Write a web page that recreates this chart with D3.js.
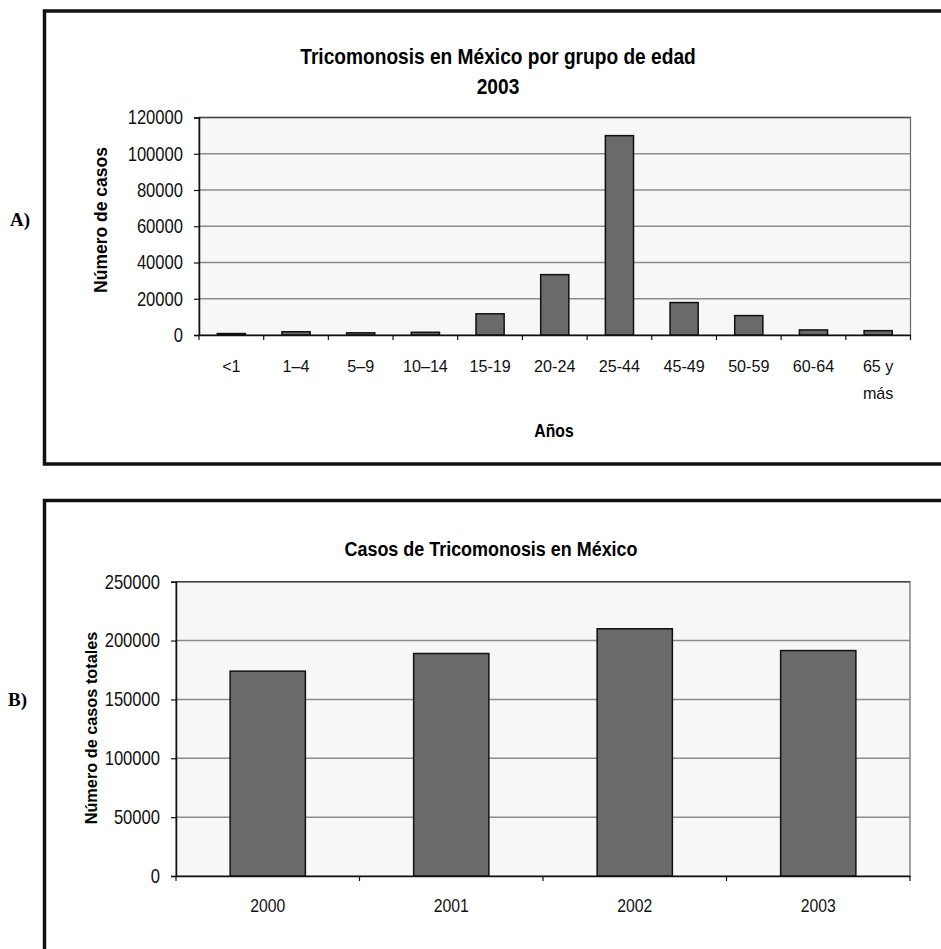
<!DOCTYPE html>
<html>
<head>
<meta charset="utf-8">
<script src="https://cdn.jsdelivr.net/npm/d3@7"></script>
<style>
  html, body { margin: 0; padding: 0; background: #ffffff; }
  svg { display: block; }
  .narrow { font-family: "Liberation Sans Narrow", "Arial Narrow", "Liberation Sans", Arial, sans-serif; }
  .reg { font-family: "Liberation Sans", Arial, sans-serif; }
  .serif { font-family: "Liberation Serif", "Times New Roman", serif; }
</style>
</head>
<body>
<svg id="chart" width="941" height="949"></svg>
<script>
// ---------- Data ----------
const ageGroups = ["<1", "1–4", "5–9", "10–14", "15-19", "20-24", "25-44", "45-49", "50-59", "60-64", "65 y más"];
const casesByAge2003 = [800, 1800, 1200, 1500, 11700, 33300, 110000, 17900, 10700, 2800, 2400];
const ageTicks = [0, 20000, 40000, 60000, 80000, 100000, 120000];

const years = ["2000", "2001", "2002", "2003"];
const totalCases = [174000, 189000, 210000, 191500];
const yearTicks = [0, 50000, 100000, 150000, 200000, 250000];

const titleA = ["Tricomonosis en México por grupo de edad", "2003"];
const yLabelA = "Número de casos";
const xLabelA = "Años";
const titleB = "Casos de Tricomonosis en México";
const yLabelB = "Número de casos totales";

// ---------- Drawing ----------
const svg = d3.select("#chart");
const barFill = "#6a6a6a";
const gridColor = "#8c8c8c";
const plotBg = "#f7f7f7";

// horizontally condense text (the source uses a narrow face)
function squeeze(sel, sx, sy) {
  sy = sy || 1;
  sel.each(function() {
    const t = d3.select(this);
    const x0 = +t.attr("x") || 0, y0 = +t.attr("y") || 0;
    t.attr("x", 0).attr("y", 0).attr("transform", `translate(${x0},${y0}) scale(${sx},${sy})`);
  });
}

// outer frames
const frames = svg.append("g").attr("fill", "none").attr("stroke", "#111").attr("stroke-width", 3.5);
frames.append("path").attr("d", "M 960 11 L 44.5 11 L 44.5 464 L 960 464");
frames.append("path").attr("d", "M 960 500.5 L 44.5 500.5 L 44.5 960");

svg.append("text").attr("class", "serif").attr("x", 10).attr("y", 226)
  .attr("font-size", 19).attr("font-weight", "bold").text("A)");
svg.append("text").attr("class", "serif").attr("x", 8).attr("y", 706)
  .attr("font-size", 19).attr("font-weight", "bold").text("B)");

function barChart(cfg) {
  const g = svg.append("g");
  const x = d3.scaleBand().domain(cfg.cats).range([cfg.left, cfg.right])
    .paddingInner(cfg.pad).paddingOuter(cfg.pad / 2);
  const y = d3.scaleLinear().domain([0, cfg.max]).range([cfg.bottom, cfg.top]);

  // plot background
  g.append("rect").attr("x", cfg.left).attr("y", cfg.top)
    .attr("width", cfg.right - cfg.left).attr("height", cfg.bottom - cfg.top)
    .attr("fill", plotBg).attr("stroke", "#666").attr("stroke-width", 1.2);

  // gridlines
  g.append("g").selectAll("line").data(cfg.ticks.filter(d => d > 0)).join("line")
    .attr("x1", cfg.left).attr("x2", cfg.right)
    .attr("y1", d => y(d)).attr("y2", d => y(d))
    .attr("stroke", d => d === cfg.max ? "#444" : gridColor).attr("stroke-width", 1.5);

  // bars
  g.append("g").selectAll("rect").data(cfg.values).join("rect")
    .attr("x", (d, i) => x(cfg.cats[i]))
    .attr("y", d => y(d))
    .attr("width", x.bandwidth())
    .attr("height", d => y(0) - y(d))
    .attr("fill", barFill).attr("stroke", "#111").attr("stroke-width", 1.5);

  // y axis
  const yAxis = g.append("g").attr("transform", `translate(${cfg.left},0)`)
    .call(d3.axisLeft(y).tickValues(cfg.ticks).tickSize(5).tickPadding(11).tickFormat(d3.format("d")));
  yAxis.select(".domain").attr("stroke", "#111").attr("stroke-width", 1.5);
  yAxis.selectAll(".tick line").attr("stroke", "#111").attr("stroke-width", 1.2);
  yAxis.selectAll(".tick text").attr("class", "narrow").attr("font-size", cfg.yTickSize).attr("fill", "#111")
    .call(squeeze, 0.83);

  // x axis (labels centred in bands, ticks at band boundaries)
  const xAxis = g.append("g").attr("transform", `translate(0,${cfg.bottom})`)
    .call(d3.axisBottom(x).tickSize(0).tickPadding(cfg.xPad));
  xAxis.select(".domain").attr("stroke", "#111").attr("stroke-width", 1.5);
  const xt = xAxis.selectAll(".tick text").attr("class", cfg.xFontClass).attr("font-size", cfg.xTickSize).attr("fill", "#111")
    .each(function(d) {
      const t = d3.select(this);
      if (d.indexOf(" y ") > 0) {
        const parts = [d.slice(0, d.indexOf(" y ") + 2), d.slice(d.indexOf(" y ") + 3)];
        t.text(null);
        parts.forEach((p, k) => t.append("tspan").attr("x", 0).attr("dy", k === 0 ? "0.71em" : "1.6em").text(p));
      }
    });
  if (cfg.xSqueeze) xt.call(squeeze, cfg.xSqueeze);
  const bounds = d3.range(cfg.cats.length + 1).map(i => cfg.left + i * x.step());
  g.append("g").selectAll("line").data(bounds).join("line")
    .attr("x1", d => d).attr("x2", d => d)
    .attr("y1", cfg.bottom).attr("y2", cfg.bottom + 5)
    .attr("stroke", "#111").attr("stroke-width", 1.2);
  return { x, y };
}

barChart({
  cats: ageGroups, values: casesByAge2003, ticks: ageTicks, max: 120000, pad: 0.565,
  left: 199, right: 910.5, top: 117.5, bottom: 335,
  yTickSize: 20, xTickSize: 17, xPad: 25, xFontClass: "reg", xSqueeze: 0.95
});

barChart({
  cats: years, values: totalCases, ticks: yearTicks, max: 250000, pad: 0.59,
  left: 176, right: 910, top: 581.7, bottom: 876,
  yTickSize: 20, xTickSize: 19, xPad: 22, xFontClass: "narrow", xSqueeze: 0.83
});

// titles
svg.append("text").attr("class", "narrow").attr("x", 498).attr("y", 64)
  .attr("text-anchor", "middle").attr("font-size", 22).attr("font-weight", "bold").text(titleA[0])
  .call(squeeze, 0.87);
svg.append("text").attr("class", "narrow").attr("x", 498).attr("y", 94)
  .attr("text-anchor", "middle").attr("font-size", 22).attr("font-weight", "bold").text(titleA[1])
  .call(squeeze, 0.87);
svg.append("text").attr("class", "narrow").attr("x", 491).attr("y", 556)
  .attr("text-anchor", "middle").attr("font-size", 21).attr("font-weight", "bold").text(titleB)
  .call(squeeze, 0.855);

// axis titles
svg.append("text").attr("class", "reg").attr("transform", "translate(107,220) rotate(-90)")
  .attr("text-anchor", "middle").attr("font-size", 17.5).attr("font-weight", "bold").text(yLabelA);
svg.append("text").attr("class", "narrow").attr("x", 554).attr("y", 437)
  .attr("text-anchor", "middle").attr("font-size", 19).attr("font-weight", "bold").text(xLabelA)
  .call(squeeze, 0.83);
svg.append("text").attr("class", "reg").attr("transform", "translate(97,728) rotate(-90)")
  .attr("text-anchor", "middle").attr("font-size", 16.3).attr("font-weight", "bold").text(yLabelB);
</script>
</body>
</html>
